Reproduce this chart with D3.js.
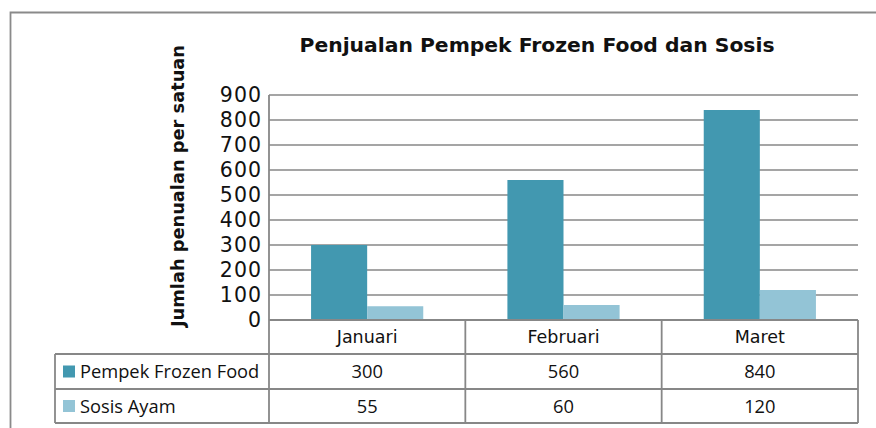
<!DOCTYPE html>
<html>
<head>
<meta charset="utf-8">
<script src="https://cdn.jsdelivr.net/npm/d3@7"></script>
<style>
  body { margin: 0; background: #fff; }
  svg { display: block; }
  .grid line { stroke: #878787; stroke-width: 1.6; }
  .tbl line { stroke: #878787; stroke-width: 1.8; }
</style>
</head>
<body>
<div id="chart"></div>
<script>
// data
var months = ["Januari", "Februari", "Maret"];
var seriesNames = ["Pempek Frozen Food", "Sosis Ayam"];
var pempek = [300, 560, 840];
var sosis = [55, 60, 120];
var yTicks = [0, 100, 200, 300, 400, 500, 600, 700, 800, 900];
var colors = ["#4298b0", "#93c4d6"];

var W = 876, H = 428;
var plotL = 269, plotR = 858, plotT = 95, plotB = 320;
var rowY = [320, 354, 389, 423];
var legendLeft = 55;

var svg = d3.select("#chart").append("svg")
    .attr("width", W)
    .attr("height", H);

// outer frame (only top + left visible)
svg.append("path")
    .attr("d", "M10.5," + H + "V12.5H" + W)
    .attr("fill", "none")
    .attr("stroke", "#8a8a8a")
    .attr("stroke-width", 1.8);

var x = d3.scaleBand().domain(months).range([plotL, plotR]).padding(0);
var xs = d3.scaleBand().domain(seriesNames).range([0, x.bandwidth()])
    .paddingInner(0).paddingOuter(0.75);
var y = d3.scaleLinear().domain([0, 900]).range([plotB, plotT]);

// gridlines
svg.append("g").attr("class", "grid")
  .selectAll("line")
  .data(yTicks)
  .enter().append("line")
    .attr("x1", plotL).attr("x2", plotR)
    .attr("y1", function(d) { return y(d); })
    .attr("y2", function(d) { return y(d); });

// y tick labels
svg.append("g")
  .selectAll("text")
  .data(yTicks)
  .enter().append("text")
    .attr("x", 262)
    .attr("y", function(d) { return y(d); })
    .attr("dy", "0.36em")
    .attr("text-anchor", "end")
    .attr("font-family", "DejaVu Sans")
    .attr("font-size", 20.5)
    .attr("letter-spacing", 1)
    .attr("fill", "#111")
    .text(function(d) { return d; });

// bars
var seriesData = [pempek, sosis];
seriesData.forEach(function(vals, si) {
  svg.append("g")
    .selectAll("rect")
    .data(vals)
    .enter().append("rect")
      .attr("x", function(d, i) { return x(months[i]) + xs(seriesNames[si]); })
      .attr("width", xs.bandwidth())
      .attr("y", function(d) { return y(d); })
      .attr("height", function(d) { return y(0) - y(d); })
      .attr("fill", colors[si]);
});

// data table lines
var tbl = svg.append("g").attr("class", "tbl");
tbl.append("line").attr("x1", plotL).attr("x2", plotL).attr("y1", plotT).attr("y2", rowY[3]);
[rowY[1], rowY[2], rowY[3]].forEach(function(yy) {
  tbl.append("line").attr("x1", legendLeft).attr("x2", plotR).attr("y1", yy).attr("y2", yy);
});
tbl.append("line").attr("x1", plotL).attr("x2", plotR).attr("y1", rowY[0]).attr("y2", rowY[0]);
tbl.append("line").attr("x1", legendLeft).attr("x2", legendLeft).attr("y1", rowY[1]).attr("y2", rowY[3]);
months.forEach(function(m) {
  tbl.append("line")
    .attr("x1", x(m) + x.bandwidth()).attr("x2", x(m) + x.bandwidth())
    .attr("y1", rowY[0]).attr("y2", rowY[3]);
});

// category labels
svg.append("g")
  .selectAll("text")
  .data(months)
  .enter().append("text")
    .attr("x", function(d) { return x(d) + x.bandwidth() / 2; })
    .attr("y", (rowY[0] + rowY[1]) / 2)
    .attr("dy", "0.36em")
    .attr("text-anchor", "middle")
    .attr("font-family", "DejaVu Sans")
    .attr("font-size", 17.5)
    .attr("fill", "#111")
    .text(function(d) { return d; });

// table values + legend
seriesData.forEach(function(vals, si) {
  var cy = (rowY[si + 1] + rowY[si + 2]) / 2;
  svg.append("rect")
    .attr("x", 63).attr("y", cy - 6)
    .attr("width", 12).attr("height", 12)
    .attr("fill", colors[si]);
  svg.append("text")
    .attr("x", 80).attr("y", cy)
    .attr("dy", "0.36em")
    .attr("font-family", "Open Sans")
    .attr("font-size", 18.3)
    .attr("fill", "#111")
    .text(seriesNames[si]);
  svg.append("g")
    .selectAll("text")
    .data(vals)
    .enter().append("text")
      .attr("x", function(d, i) { return x(months[i]) + x.bandwidth() / 2; })
      .attr("y", cy)
      .attr("dy", "0.36em")
      .attr("text-anchor", "middle")
      .attr("font-family", "Open Sans")
      .attr("font-size", 18.3)
      .attr("fill", "#111")
      .text(function(d) { return d; });
});

// title
svg.append("text")
    .attr("x", 537).attr("y", 52)
    .attr("text-anchor", "middle")
    .attr("font-family", "DejaVu Sans")
    .attr("font-weight", "bold")
    .attr("font-size", 19)
    .attr("textLength", 475)
    .attr("lengthAdjust", "spacingAndGlyphs")
    .attr("fill", "#111")
    .text("Penjualan Pempek Frozen Food dan Sosis");

// y axis title
svg.append("text")
    .attr("transform", "translate(184,186) rotate(-90)")
    .attr("text-anchor", "middle")
    .attr("font-family", "DejaVu Sans")
    .attr("font-weight", "bold")
    .attr("font-size", 17)
    .attr("textLength", 282)
    .attr("lengthAdjust", "spacingAndGlyphs")
    .attr("fill", "#111")
    .text("Jumlah penualan per satuan");
</script>
</body>
</html>
